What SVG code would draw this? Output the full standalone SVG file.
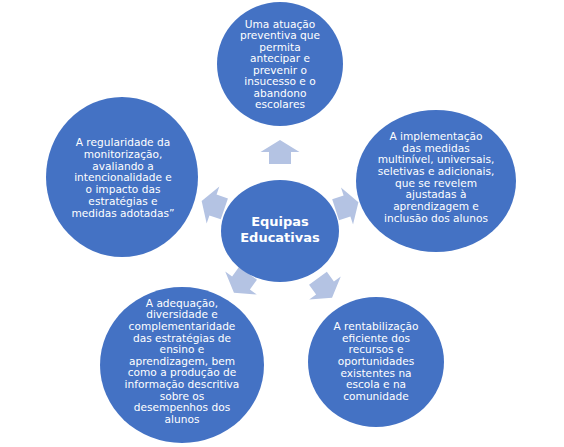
<svg xmlns="http://www.w3.org/2000/svg" width="564" height="447" viewBox="0 0 564 447">
  <style>
    .node { fill: #4472c4; }
    .arrow { fill: #b4c3e3; }
    .t { font-family: "DejaVu Sans", "Liberation Sans", sans-serif; font-size: 10.6px; fill: #ffffff; text-anchor: middle; }
    .c { font-family: "DejaVu Sans", "Liberation Sans", sans-serif; font-size: 13px; font-weight: bold; fill: #ffffff; text-anchor: middle; }
  </style>
  <defs>
    <polygon id="blk" points="-12,-11 0,-11 0,-19.5 12,0 0,19.5 0,11 -12,11"/>
  </defs>
  <rect width="564" height="447" fill="#ffffff"/>

  <g id="connectors">
    <use href="#blk" class="arrow" transform="translate(280,152) rotate(-90)"/>
    <use href="#blk" class="arrow" transform="translate(347,206) rotate(-18)"/>
    <use href="#blk" class="arrow" transform="translate(325,288) rotate(54)"/>
    <use href="#blk" class="arrow" transform="translate(241,283) rotate(126)"/>
    <use href="#blk" class="arrow" transform="translate(213,205) rotate(199)"/>
  </g>

  <g id="node-center">
    <ellipse class="node" cx="280" cy="231" rx="59" ry="51"/>
    <text class="c" x="280" y="225.5">Equipas</text>
    <text class="c" x="280" y="242">Educativas</text>
  </g>

  <g id="node-top">
    <ellipse class="node" cx="280" cy="64" rx="63" ry="62"/>
    <text class="t" x="280" y="28">Uma atuação</text>
    <text class="t" x="280" y="39.4">preventiva que</text>
    <text class="t" x="280" y="50.9">permita</text>
    <text class="t" x="280" y="62.3">antecipar e</text>
    <text class="t" x="280" y="73.7">prevenir o</text>
    <text class="t" x="280" y="85.1">insucesso e o</text>
    <text class="t" x="280" y="96.6">abandono</text>
    <text class="t" x="280" y="108">escolares</text>
  </g>

  <g id="node-right">
    <ellipse class="node" cx="436" cy="181" rx="80" ry="71"/>
    <text class="t" x="436" y="140">A implementação</text>
    <text class="t" x="436" y="151.7">das medidas</text>
    <text class="t" x="436" y="163.3">multinível, universais,</text>
    <text class="t" x="436" y="175">seletivas e adicionais,</text>
    <text class="t" x="436" y="186.7">que se revelem</text>
    <text class="t" x="436" y="198.4">ajustadas à</text>
    <text class="t" x="436" y="210">aprendizagem e</text>
    <text class="t" x="436" y="221.7">inclusão dos alunos</text>
  </g>

  <g id="node-bottom-right">
    <ellipse class="node" cx="376" cy="362" rx="68" ry="65"/>
    <text class="t" x="376" y="330">A rentabilização</text>
    <text class="t" x="376" y="341.7">eficiente dos</text>
    <text class="t" x="376" y="353.3">recursos e</text>
    <text class="t" x="376" y="365">oportunidades</text>
    <text class="t" x="376" y="376.7">existentes na</text>
    <text class="t" x="376" y="388.3">escola e na</text>
    <text class="t" x="376" y="400">comunidade</text>
  </g>

  <g id="node-bottom-left">
    <ellipse class="node" cx="182" cy="365" rx="82" ry="78"/>
    <text class="t" x="182" y="306.7">A adequação,</text>
    <text class="t" x="182" y="318.3">diversidade e</text>
    <text class="t" x="182" y="329.9">complementaridade</text>
    <text class="t" x="182" y="341.6">das estratégias de</text>
    <text class="t" x="182" y="353.2">ensino e</text>
    <text class="t" x="182" y="364.8">aprendizagem, bem</text>
    <text class="t" x="182" y="376.4">como a produção de</text>
    <text class="t" x="182" y="388.1">informação descritiva</text>
    <text class="t" x="182" y="399.7">sobre os</text>
    <text class="t" x="182" y="411.3">desempenhos dos</text>
    <text class="t" x="182" y="423">alunos</text>
  </g>

  <g id="node-left">
    <ellipse class="node" cx="122" cy="177" rx="76" ry="80"/>
    <text class="t" x="123" y="146">A regularidade da</text>
    <text class="t" x="123" y="157.8">monitorização,</text>
    <text class="t" x="123" y="169.6">avaliando a</text>
    <text class="t" x="123" y="181.3">intencionalidade e</text>
    <text class="t" x="123" y="193.1">o impacto das</text>
    <text class="t" x="123" y="204.9">estratégias e</text>
    <text class="t" x="123" y="216.7">medidas adotadas”</text>
  </g>
</svg>
